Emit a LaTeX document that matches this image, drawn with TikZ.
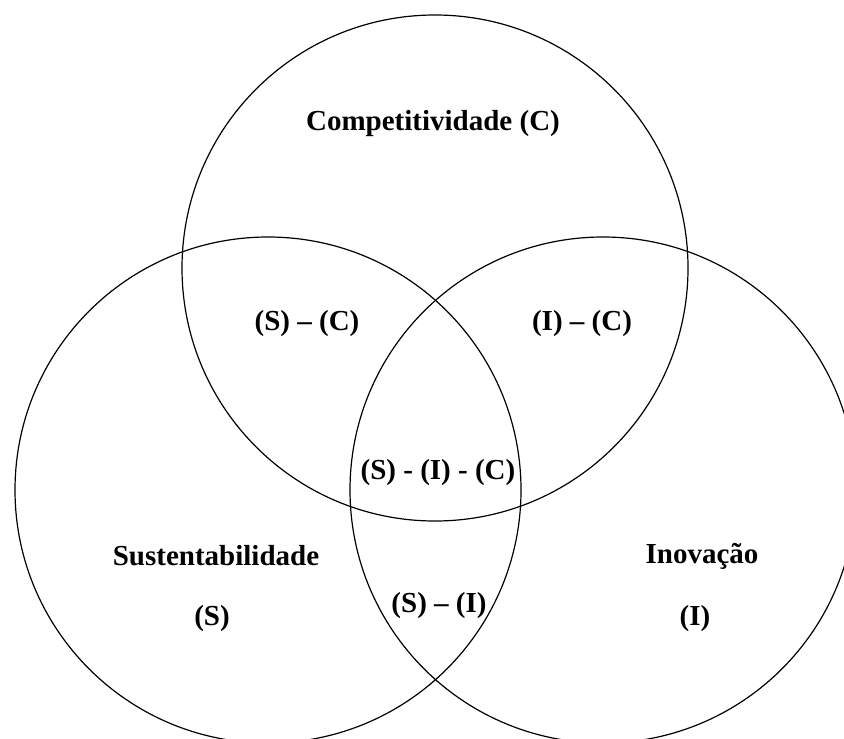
\documentclass[tikz,border=0pt]{standalone}
\usepackage{fontspec}
\setmainfont{Liberation Serif}
\usepackage{tikz}

\begin{document}
\begin{tikzpicture}[x=0.5pt,y=-0.5pt,
  set/.style={circle,draw,line width=0.6pt,inner sep=0pt,minimum size=253pt},
  lbl/.style={font=\fontsize{14.5}{17}\selectfont\bfseries,inner sep=1pt}]
\useasboundingbox (0,0) rectangle (844,738);

% Circles
\node[set] (C) at (435,268) {};
\node[set] (S) at (268,490) {};
\node[set] (I) at (603,490) {};

% Set names
\node[lbl] (compet) at (433,124) {Competitividade (C)};
\node[lbl] (susten) at (216,556) {Sustentabilidade};
\node[lbl] (sletter) at (212,619) {(S)};
\node[lbl] (inova) at (702,556) {Inovação};
\node[lbl] (iletter) at (695,619) {(I)};

% Intersections
\node[lbl] (sc) at (307,324) {(S) – (C)};
\node[lbl] (ic) at (582,324) {(I) – (C)};
\node[lbl] (sic) at (438,473) {(S) - (I) - (C)};
\node[lbl] (si) at (439,606) {(S) – (I)};

\end{tikzpicture}
\end{document}
